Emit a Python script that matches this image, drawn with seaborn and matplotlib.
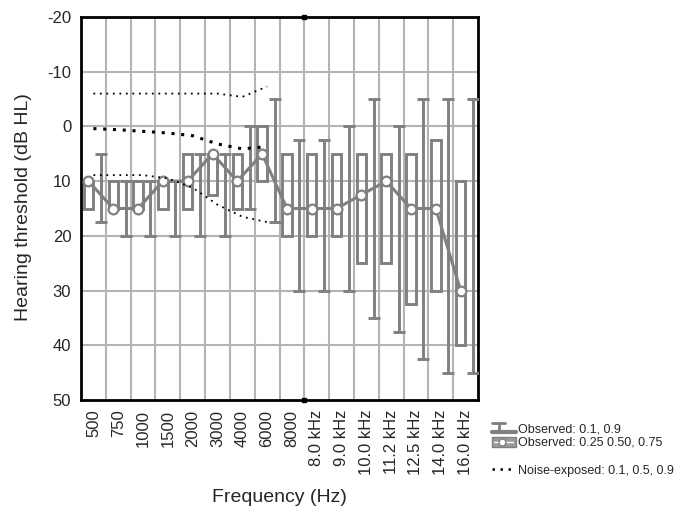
import numpy as np
import pandas as pd
import matplotlib
matplotlib.use("Agg")
import matplotlib.pyplot as plt
import seaborn as sns
from matplotlib.legend_handler import HandlerBase
from matplotlib.lines import Line2D
from matplotlib.patches import Rectangle

# ---------------- data ----------------
freq_labels = ["500", "750", "1000", "1500", "2000", "3000", "4000", "6000", "8000",
               "8.0 kHz", "9.0 kHz", "10.0 kHz", "11.2 kHz", "12.5 kHz", "14.0 kHz", "16.0 kHz"]
obs_p10 = [5, 10, 10, 10, 5, 5, 0, -5, 2.5, 2.5, 0, -5, 0, -5, -5, -5]
obs_p90 = [17.5, 20, 20, 20, 20, 20, 15, 17.5, 30, 30, 30, 35, 37.5, 42.5, 45, 45]
obs_p25 = [10, 10, 10, 10, 5, 5, 5, 0, 5, 5, 5, 5, 5, 5, 2.5, 10]
obs_p50 = [10, 15, 15, 10, 10, 5, 10, 5, 15, 15, 15, 12.5, 10, 15, 15, 30]
obs_p75 = [15, 15, 15, 15, 15, 12.5, 15, 10, 20, 20, 20, 25, 25, 32.5, 30, 40]

noise_labels = ["500", "750", "1000", "1500", "2000", "3000", "4000", "6000"]
noise_p10 = [-6, -6, -6, -6, -6, -6, -5.4, -7.3]
noise_p50 = [0.4, 0.6, 0.9, 1.2, 1.7, 3.2, 4.1, 3.7]
noise_p90 = [8.9, 8.9, 8.9, 9.5, 11.2, 14.3, 16.5, 17.5]

y_ticks = [-20, -10, 0, 10, 20, 30, 40, 50]

# ---------------- style ----------------
sns.set_style("white")
plt.rcParams['font.family'] = ['Liberation Sans', 'DejaVu Sans']

GRAY = "#808080"
GRID = "#b4b4b4"

obs = pd.DataFrame({"freq": freq_labels, "p10": obs_p10, "p25": obs_p25,
                    "p50": obs_p50, "p75": obs_p75, "p90": obs_p90})
obs["pos"] = np.arange(len(obs))
noise = pd.DataFrame({"freq": noise_labels, "p10": noise_p10,
                      "p50": noise_p50, "p90": noise_p90})
noise["pos"] = [freq_labels.index(f) for f in noise_labels]

fig = plt.figure(figsize=(6.83, 5.16), dpi=100)
ax = fig.add_axes([81 / 683, 1 - 400 / 516, (478 - 81) / 683, (400 - 17) / 516])

n = len(freq_labels)
ax.set_xlim(-0.5, n - 0.5)
ax.set_ylim(50, -20)

# grid (the boundary at 8.5 doubles as divider between the two frequency sets)
for b in np.arange(0.5, n - 0.5, 1):
    ax.axvline(b, color=GRID, lw=1.5, zorder=0)
for yt in y_ticks[1:-1]:
    ax.axhline(yt, color=GRID, lw=1.5, zorder=0)
ax.plot([8.5, 8.5], [-20, 50], ls="none", marker="s", ms=3, color="black",
        clip_on=False, zorder=6)

BOX_OFF = -0.2
WHI_OFF = 0.3

# boxes (25th-75th percentile)
ax.bar(obs["pos"] + BOX_OFF, obs["p75"] - obs["p25"], bottom=obs["p25"], width=0.38,
       fill=False, edgecolor=GRAY, linewidth=2.1, zorder=3)

# whiskers (10th-90th percentile)
mid = (obs["p10"] + obs["p90"]) / 2
half = (obs["p90"] - obs["p10"]) / 2
ax.errorbar(obs["pos"] + WHI_OFF, mid, yerr=half, fmt="none", ecolor=GRAY,
            elinewidth=2.1, capsize=4.6, capthick=2.1, zorder=3)

# medians connected
sns.lineplot(x=obs["pos"] + BOX_OFF, y=obs["p50"], ax=ax, color=GRAY, lw=2.2,
             marker="o", markersize=7, markerfacecolor="white",
             markeredgecolor=GRAY, markeredgewidth=1.6, sort=False, zorder=4)

# noise-exposed reference percentiles
sns.lineplot(x=noise["pos"], y=noise["p10"], ax=ax, color="black", lw=1.3,
             linestyle=(0, (1, 2.6)), sort=False, zorder=5)
sns.lineplot(x=noise["pos"], y=noise["p50"], ax=ax, color="black", lw=2.2,
             linestyle=(0, (1, 2.2)), sort=False, zorder=5)
sns.lineplot(x=noise["pos"], y=noise["p90"], ax=ax, color="black", lw=1.3,
             linestyle=(0, (1, 2.6)), sort=False, zorder=5)

ax.set_xticks(obs["pos"])
ax.set_xticklabels(freq_labels, rotation=90, fontsize=12)
ax.set_yticks(y_ticks)
ax.set_yticklabels([str(v) for v in y_ticks], fontsize=12)
ax.tick_params(axis="both", length=0, pad=7)
for s in ax.spines.values():
    s.set_visible(True)
    s.set_color("black")
    s.set_linewidth(2)

fig.text(24 / 683, 1 - 207 / 516, "Hearing threshold (dB HL)", rotation=90,
         ha="center", va="center", fontsize=14)
fig.text(279.5 / 683, 1 - 497 / 516, "Frequency (Hz)", ha="center", va="center",
         fontsize=14)
ax.set_xlabel("")
ax.set_ylabel("")


# ---------------- legend ----------------
class ErrHandler(HandlerBase):
    def create_artists(self, legend, orig_handle, xd, yd, width, height, fontsize, trans):
        cx = -xd + width * 0.28
        y0, y1 = -yd, -yd + height * 1.05
        w = width * 0.26
        arts = [Line2D([cx, cx], [y0, y1], color=GRAY, lw=2),
                Line2D([cx - w, cx + w], [y1, y1], color=GRAY, lw=2),
                Line2D([-xd, -xd + width], [y0, y0], color=GRAY, lw=3)]
        for a in arts:
            a.set_transform(trans)
        return arts


class BoxHandler(HandlerBase):
    def create_artists(self, legend, orig_handle, xd, yd, width, height, fontsize, trans):
        r = Rectangle((-xd, -yd - height * 0.1), width, height * 1.1,
                      facecolor="#9a9a9a", edgecolor=GRAY, lw=1)
        ln = Line2D([-xd + width * 0.1, -xd + width * 0.9],
                    [-yd + height * 0.45] * 2, color="white", lw=1)
        c = Line2D([-xd + width * 0.42], [-yd + height * 0.45], marker="o", ms=5,
                   markerfacecolor="white", markeredgecolor=GRAY, ls="none")
        for a in (r, ln, c):
            a.set_transform(trans)
        return [r, ln, c]


class BlankHandler(HandlerBase):
    def create_artists(self, legend, orig_handle, xd, yd, width, height, fontsize, trans):
        a = Line2D([], [], alpha=0)
        a.set_transform(trans)
        return [a]


class Dummy:
    pass


h_err = Dummy()
h_box = Dummy()
h_blank = Dummy()
h_noise = Line2D([], [], color="black", lw=1.8, linestyle=(0, (1, 2.2)))

fig.legend([h_err, h_box, h_blank, h_noise],
           ["Observed: 0.1, 0.9", "Observed: 0.25 0.50, 0.75", " ",
            "Noise-exposed: 0.1, 0.5, 0.9"],
           handler_map={h_err: ErrHandler(), h_box: BoxHandler(),
                        h_blank: BlankHandler()},
           loc="upper left", bbox_to_anchor=(492 / 683, 1 - 423 / 516),
           frameon=False, fontsize=9, handlelength=1.9, handletextpad=0.15,
           labelspacing=0.15, borderaxespad=0, borderpad=0)

fig.savefig("out.png", dpi=100)
